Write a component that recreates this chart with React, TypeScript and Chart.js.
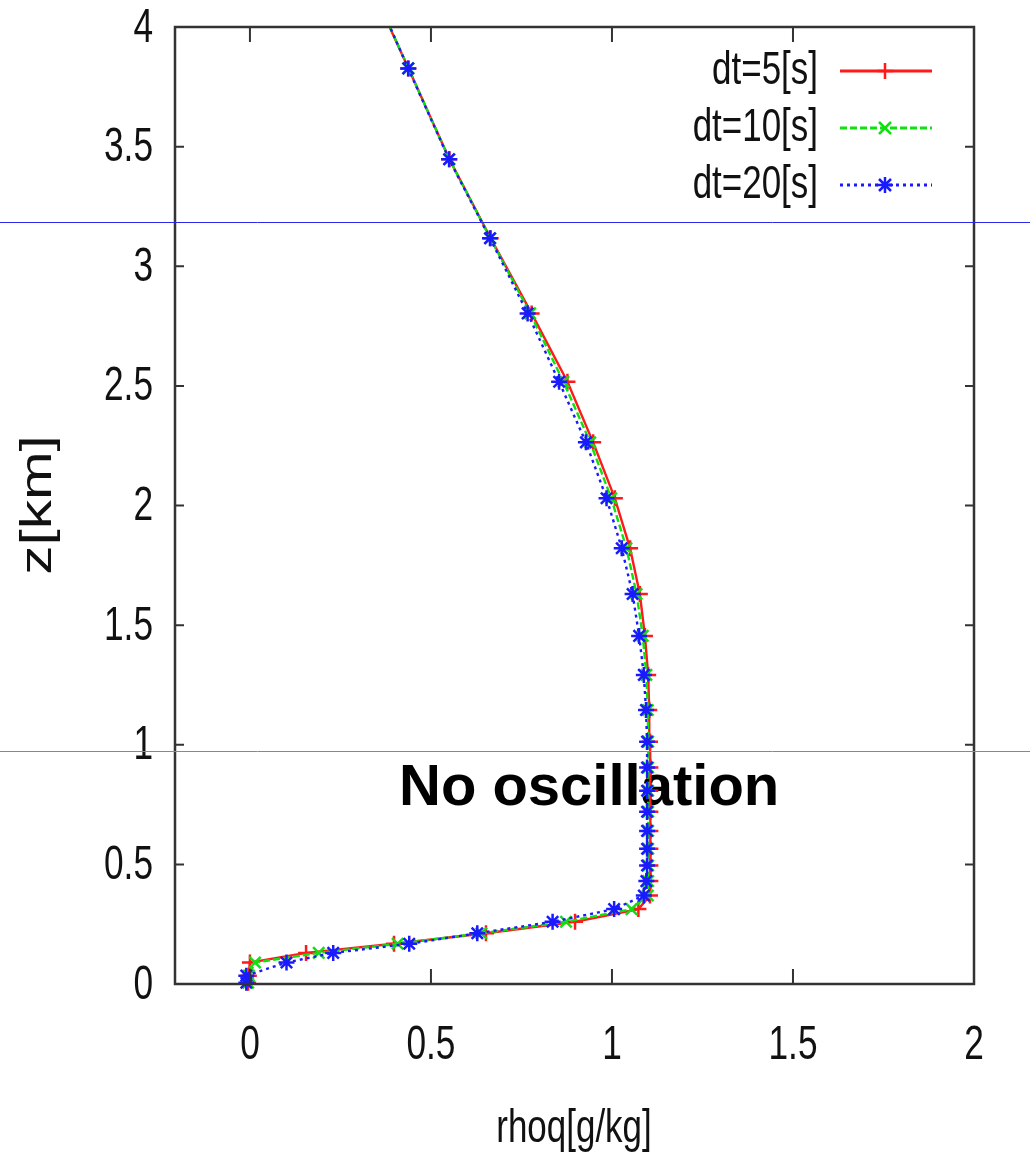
import React, { useEffect, useRef } from "react";
import { Chart, registerables } from "chart.js";

Chart.register(...registerables);

// Heights of the model levels [km]
const zLevels = [
  0.005, 0.035, 0.09, 0.13, 0.168, 0.212, 0.26, 0.313, 0.37, 0.43, 0.495, 0.565, 0.64, 0.72, 0.808,
  0.905, 1.013, 1.145, 1.292, 1.455, 1.63, 1.821, 2.03, 2.264, 2.517, 2.803, 3.117, 3.447, 3.827, 4.25,
];
// rhoq [g/kg] for each time step
const rhoqDt5 = [
  -0.005, -0.003, 0.0, 0.155, 0.398, 0.652, 0.898, 1.073, 1.105, 1.106, 1.106, 1.106, 1.106, 1.106, 1.106,
  1.106, 1.105, 1.103, 1.1, 1.091, 1.077, 1.05, 1.008, 0.948, 0.877, 0.778, 0.665, 0.551, 0.438, 0.31,
];
const rhoqDt10 = [
  -0.005, -0.003, 0.014, 0.19, 0.408, 0.639, 0.873, 1.054, 1.099, 1.1, 1.1, 1.1, 1.1, 1.1, 1.1,
  1.1, 1.1, 1.099, 1.095, 1.085, 1.068, 1.04, 0.998, 0.94, 0.866, 0.774, 0.664, 0.551, 0.438, 0.312,
];
const rhoqDt20 = [
  -0.01, -0.01, 0.101, 0.23, 0.44, 0.628, 0.836, 1.006, 1.088, 1.095, 1.097, 1.097, 1.097, 1.097, 1.097,
  1.097, 1.097, 1.094, 1.088, 1.075, 1.057, 1.027, 0.985, 0.928, 0.854, 0.767, 0.663, 0.55, 0.437, 0.315,
];
const seriesLabels = ["dt=5[s]", "dt=10[s]", "dt=20[s]"];
const xTicks = [0, 0.5, 1, 1.5, 2];
const yTicks = [0, 0.5, 1, 1.5, 2, 2.5, 3, 3.5, 4];
const xTitle = "rhoq[g/kg]";
const yTitle = "z[km]";
const annotation = "No oscillation";

const FONT = "'Liberation Sans', Arial, sans-serif";
const RED = "#ff1a1a";
const GREEN = "#10e010";
const BLUE = "#1a1aff";

function drawText(
  ctx: CanvasRenderingContext2D,
  text: string,
  x: number,
  y: number,
  size: number,
  sx: number,
  align: CanvasTextAlign
) {
  ctx.save();
  ctx.translate(x, y);
  ctx.scale(sx, 1);
  ctx.font = `${size}px ${FONT}`;
  ctx.textAlign = align;
  ctx.textBaseline = "middle";
  ctx.fillStyle = "#111";
  ctx.fillText(text, 0, 0);
  ctx.restore();
}

function drawMarker(ctx: CanvasRenderingContext2D, kind: string, x: number, y: number, r: number, color: string) {
  ctx.save();
  ctx.strokeStyle = color;
  ctx.lineWidth = 2.5;
  ctx.setLineDash([]);
  ctx.beginPath();
  if (kind === "cross" || kind === "star") {
    ctx.moveTo(x - r, y);
    ctx.lineTo(x + r, y);
    ctx.moveTo(x, y - r);
    ctx.lineTo(x, y + r);
  }
  if (kind === "crossRot" || kind === "star") {
    const d = r * 0.75;
    ctx.moveTo(x - d, y - d);
    ctx.lineTo(x + d, y + d);
    ctx.moveTo(x - d, y + d);
    ctx.lineTo(x + d, y - d);
  }
  ctx.stroke();
  ctx.restore();
}

const decorPlugin = {
  id: "decor",
  beforeDatasetsDraw(chart: any) {
    const ctx: CanvasRenderingContext2D = chart.ctx;
    ctx.save();
    ctx.font = `bold 58px ${FONT}`;
    ctx.fillStyle = "#000";
    ctx.textAlign = "left";
    ctx.textBaseline = "alphabetic";
    ctx.fillText(annotation, 399, 805);
    ctx.restore();
  },
  afterDraw(chart: any) {
    const ctx: CanvasRenderingContext2D = chart.ctx;
    const a = chart.chartArea;
    const xs = chart.scales.x;
    const ys = chart.scales.y;
    ctx.save();
    // border
    ctx.strokeStyle = "#333";
    ctx.lineWidth = 2.5;
    ctx.setLineDash([]);
    ctx.strokeRect(a.left, a.top, a.right - a.left, a.bottom - a.top);
    // ticks
    ctx.lineWidth = 2;
    ctx.beginPath();
    yTicks.forEach((v) => {
      const y = ys.getPixelForValue(v);
      ctx.moveTo(a.left, y);
      ctx.lineTo(a.left + 9, y);
      ctx.moveTo(a.right, y);
      ctx.lineTo(a.right - 9, y);
    });
    xTicks.forEach((v) => {
      const x = xs.getPixelForValue(v);
      ctx.moveTo(x, a.bottom);
      ctx.lineTo(x, a.bottom - 15);
      ctx.moveTo(x, a.top);
      ctx.lineTo(x, a.top + 15);
    });
    ctx.stroke();
    ctx.restore();

    // tick labels
    yTicks.forEach((v) => {
      drawText(ctx, String(v), 153, ys.getPixelForValue(v) + 1, 49, 0.72, "right");
    });
    xTicks.forEach((v) => {
      drawText(ctx, String(v), xs.getPixelForValue(v), 1045, 49, 0.72, "center");
    });

    // axis titles
    drawText(ctx, xTitle, 574, 1129, 46, 0.76, "center");
    ctx.save();
    ctx.translate(39, 505);
    ctx.rotate(-Math.PI / 2);
    ctx.scale(1.3, 1);
    ctx.font = `45px ${FONT}`;
    ctx.textAlign = "center";
    ctx.textBaseline = "middle";
    ctx.fillStyle = "#111";
    ctx.fillText(yTitle, 0, 0);
    ctx.restore();

    // legend
    const styles = [
      { color: RED, dash: [] as number[], kind: "cross" },
      { color: GREEN, dash: [7, 3], kind: "crossRot" },
      { color: BLUE, dash: [3, 4], kind: "star" },
    ];
    const rows = [71, 128, 185];
    seriesLabels.forEach((lab, i) => {
      const y = rows[i];
      drawText(ctx, lab, 818, y, 46, 0.76, "right");
      ctx.save();
      ctx.strokeStyle = styles[i].color;
      ctx.lineWidth = 2.8;
      ctx.setLineDash(styles[i].dash);
      ctx.beginPath();
      ctx.moveTo(840, y);
      ctx.lineTo(932, y);
      ctx.stroke();
      ctx.restore();
      drawMarker(ctx, styles[i].kind, 885, y, 8, styles[i].color);
    });

    // overlay horizontal lines
    ctx.save();
    ctx.lineWidth = 1;
    ctx.setLineDash([]);
    ctx.strokeStyle = "#2a2ae8";
    ctx.beginPath();
    ctx.moveTo(0, 222.5);
    ctx.lineTo(1030, 222.5);
    ctx.stroke();
    ctx.strokeStyle = "#8080c8";
    ctx.beginPath();
    ctx.moveTo(0, 751.5);
    ctx.lineTo(1030, 751.5);
    ctx.stroke();
    ctx.restore();
  },
};

export default function App() {
  const ref = useRef<HTMLCanvasElement | null>(null);
  useEffect(() => {
    document.body.style.margin = "0";
    const canvas = ref.current;
    if (!canvas) return;
    const mk = (xs: number[]) => xs.map((x, i) => ({ x, y: zLevels[i] }));
    const clip = { left: 10, top: 0, right: 10, bottom: 10 };
    const common = {
      showLine: true,
      borderWidth: 2.4,
      pointRadius: 8,
      pointBorderWidth: 2.5,
      clip,
    };
    const chart = new Chart(canvas, {
      type: "scatter",
      data: {
        datasets: [
          {
            ...common,
            label: seriesLabels[0],
            data: mk(rhoqDt5),
            borderColor: RED,
            backgroundColor: RED,
            pointStyle: "cross",
            pointBorderColor: RED,
            order: 3,
          } as any,
          {
            ...common,
            label: seriesLabels[1],
            data: mk(rhoqDt10),
            borderColor: GREEN,
            backgroundColor: GREEN,
            borderDash: [7, 3],
            pointStyle: "crossRot",
            pointBorderColor: GREEN,
            order: 2,
          } as any,
          {
            ...common,
            label: seriesLabels[2],
            data: mk(rhoqDt20),
            borderColor: BLUE,
            backgroundColor: BLUE,
            borderDash: [3, 4],
            pointStyle: "star",
            pointBorderColor: BLUE,
            order: 1,
          } as any,
        ],
      },
      options: {
        responsive: false,
        animation: false,
        layout: { padding: { left: 175, right: 56, top: 27, bottom: 170 } },
        plugins: { legend: { display: false }, tooltip: { enabled: false }, title: { display: false } },
        scales: {
          x: { type: "linear", min: -0.207, max: 2, display: false },
          y: { type: "linear", min: 0, max: 4, display: false },
        },
      },
      plugins: [decorPlugin],
    });
    return () => chart.destroy();
  }, []);
  return (
    <div style={{ width: 1030, height: 1154, background: "#fff" }}>
      <canvas ref={ref} width={1030} height={1154} style={{ display: "block" }} />
    </div>
  );
}
